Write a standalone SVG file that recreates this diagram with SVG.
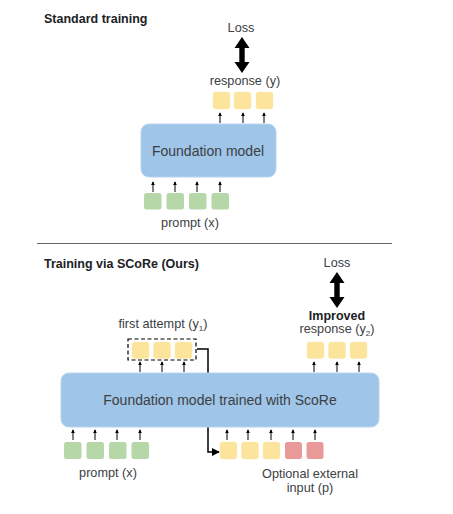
<svg xmlns="http://www.w3.org/2000/svg" width="453" height="514" viewBox="0 0 453 514">
<defs>
<style>
.t{font-family:"Liberation Sans",Arial,sans-serif;font-size:12.7px;fill:#3c4043}
.tb{font-family:"Liberation Sans",Arial,sans-serif;font-size:12.5px;font-weight:bold;fill:#202124}
.tm{font-family:"Liberation Sans",Arial,sans-serif;font-size:14px;fill:#3c4043}
.y{fill:#fde49c;stroke:#fbe8b0;stroke-width:0.5}
.g{fill:#b6d7a8}
.r{fill:#ea9999}
.m{fill:#9fc5e8;stroke:#b7d4ef;stroke-width:1}
.sa{stroke:#000;stroke-width:1;fill:none;marker-end:url(#sh)}
.conn{stroke:#000;stroke-width:1.5;fill:none}
</style>
<marker id="sh" viewBox="0 0 6 6" refX="5" refY="3" markerWidth="4" markerHeight="4" orient="auto" markerUnits="userSpaceOnUse">
<path d="M0,0 L6,3 L0,6 z" fill="#000"/>
</marker>
<marker id="bh" viewBox="0 0 10 10" refX="9" refY="5" markerWidth="8" markerHeight="8" orient="auto" markerUnits="userSpaceOnUse">
<path d="M0,0 L10,5 L0,10 z" fill="#000"/>
</marker>
<path id="dbl" d="M0,-18 L7.5,-7 L2.7,-7 L2.7,7 L7.5,7 L0,18 L-7.5,7 L-2.7,7 L-2.7,-7 L-7.5,-7 z" fill="#000"/>
</defs>
<rect width="453" height="514" fill="#fff"/>

<g id="connectors">
<polyline class="conn" points="197,349 208,349 208,452 219,452" marker-end="url(#bh)"/>
<g id="small-arrows">
<line class="sa" x1="220" y1="123" x2="220" y2="113"/>
<line class="sa" x1="243" y1="123" x2="243" y2="113"/>
<line class="sa" x1="264" y1="123" x2="264" y2="113"/>
<line class="sa" x1="153" y1="192" x2="153" y2="182"/>
<line class="sa" x1="175" y1="192" x2="175" y2="182"/>
<line class="sa" x1="197" y1="192" x2="197" y2="182"/>
<line class="sa" x1="220" y1="192" x2="220" y2="182"/>
<line class="sa" x1="140" y1="372" x2="140" y2="362"/>
<line class="sa" x1="162" y1="372" x2="162" y2="362"/>
<line class="sa" x1="184" y1="372" x2="184" y2="362"/>
<line class="sa" x1="314" y1="372" x2="314" y2="362"/>
<line class="sa" x1="337" y1="372" x2="337" y2="362"/>
<line class="sa" x1="359" y1="372" x2="359" y2="362"/>
<line class="sa" x1="73" y1="440" x2="73" y2="430"/>
<line class="sa" x1="95" y1="440" x2="95" y2="430"/>
<line class="sa" x1="117" y1="440" x2="117" y2="430"/>
<line class="sa" x1="140" y1="440" x2="140" y2="430"/>
<line class="sa" x1="227" y1="440" x2="227" y2="430"/>
<line class="sa" x1="248" y1="440" x2="248" y2="430"/>
<line class="sa" x1="271" y1="440" x2="271" y2="430"/>
<line class="sa" x1="293" y1="440" x2="293" y2="430"/>
<line class="sa" x1="315" y1="440" x2="315" y2="430"/>
</g>
<use href="#dbl" x="242" y="55"/>
<use href="#dbl" x="337" y="290"/>
</g>

<g id="titles">
<text class="tb" x="44" y="23">Standard training</text>
<line x1="37" y1="243.5" x2="392" y2="243.5" stroke="#666" stroke-width="1"/>
<text class="tb" x="44" y="268">Training via SCoRe (Ours)</text>
</g>

<g id="loss1"><text class="t" x="241" y="32" text-anchor="middle">Loss</text></g>
<g id="response1">
<text class="t" x="245" y="85" text-anchor="middle">response (y)</text>
<rect class="y" x="213" y="92" width="17" height="17" rx="2.5"/>
<rect class="y" x="234" y="92" width="17" height="17" rx="2.5"/>
<rect class="y" x="256" y="92" width="17" height="17" rx="2.5"/>
</g>
<g id="model1">
<rect class="m" x="141" y="124" width="135" height="53" rx="8"/>
<text class="tm" x="208" y="156" text-anchor="middle">Foundation model</text>
</g>
<g id="prompt1">
<rect class="g" x="144" y="193" width="17.5" height="16.5" rx="2.5"/>
<rect class="g" x="166.5" y="193" width="17.5" height="16.5" rx="2.5"/>
<rect class="g" x="189" y="193" width="17.5" height="16.5" rx="2.5"/>
<rect class="g" x="211.5" y="193" width="17.5" height="16.5" rx="2.5"/>
<text class="t" x="190" y="227" text-anchor="middle">prompt (x)</text>
</g>

<g id="loss2"><text class="t" x="337" y="267" text-anchor="middle">Loss</text></g>
<g id="response2">
<text class="tb" x="337" y="320" text-anchor="middle">Improved</text>
<text class="t" x="337" y="333" text-anchor="middle">response (y<tspan font-size="8" dy="2.5">2</tspan><tspan dy="-2.5">)</tspan></text>
<rect class="y" x="307" y="342" width="17" height="16.5" rx="2.5"/>
<rect class="y" x="328.5" y="342" width="17" height="16.5" rx="2.5"/>
<rect class="y" x="350" y="342" width="17" height="16.5" rx="2.5"/>
</g>
<g id="first-attempt">
<text class="t" x="163" y="328" text-anchor="middle">first attempt (y<tspan font-size="8" dy="2.5">1</tspan><tspan dy="-2.5">)</tspan></text>
<rect x="128" y="339" width="68" height="21" fill="none" stroke="#000" stroke-width="1.2" stroke-dasharray="4,2.5"/>
<rect class="y" x="132" y="342" width="17" height="16.5" rx="2.5"/>
<rect class="y" x="153.5" y="342" width="17" height="16.5" rx="2.5"/>
<rect class="y" x="175" y="342" width="17" height="16.5" rx="2.5"/>
</g>
<g id="model2">
<rect class="m" x="61" y="373" width="318" height="54" rx="8"/>
<text class="tm" x="220" y="405" text-anchor="middle">Foundation model trained with ScoRe</text>
</g>
<g id="prompt2">
<rect class="g" x="64" y="442" width="17.5" height="17" rx="2.5"/>
<rect class="g" x="86.5" y="442" width="17.5" height="17" rx="2.5"/>
<rect class="g" x="109" y="442" width="17.5" height="17" rx="2.5"/>
<rect class="g" x="131.5" y="442" width="17.5" height="17" rx="2.5"/>
<text class="t" x="108" y="477" text-anchor="middle">prompt (x)</text>
</g>
<g id="second-input">
<rect class="y" x="220" y="442" width="17" height="17" rx="2.5"/>
<rect class="y" x="241.5" y="442" width="17" height="17" rx="2.5"/>
<rect class="y" x="263" y="442" width="17" height="17" rx="2.5"/>
<rect class="r" x="285" y="442" width="17" height="17" rx="2.5"/>
<rect class="r" x="306.5" y="442" width="17" height="17" rx="2.5"/>
<text class="t" x="310" y="478" text-anchor="middle">Optional external</text>
<text class="t" x="310" y="492" text-anchor="middle">input (p)</text>
</g>
</svg>
